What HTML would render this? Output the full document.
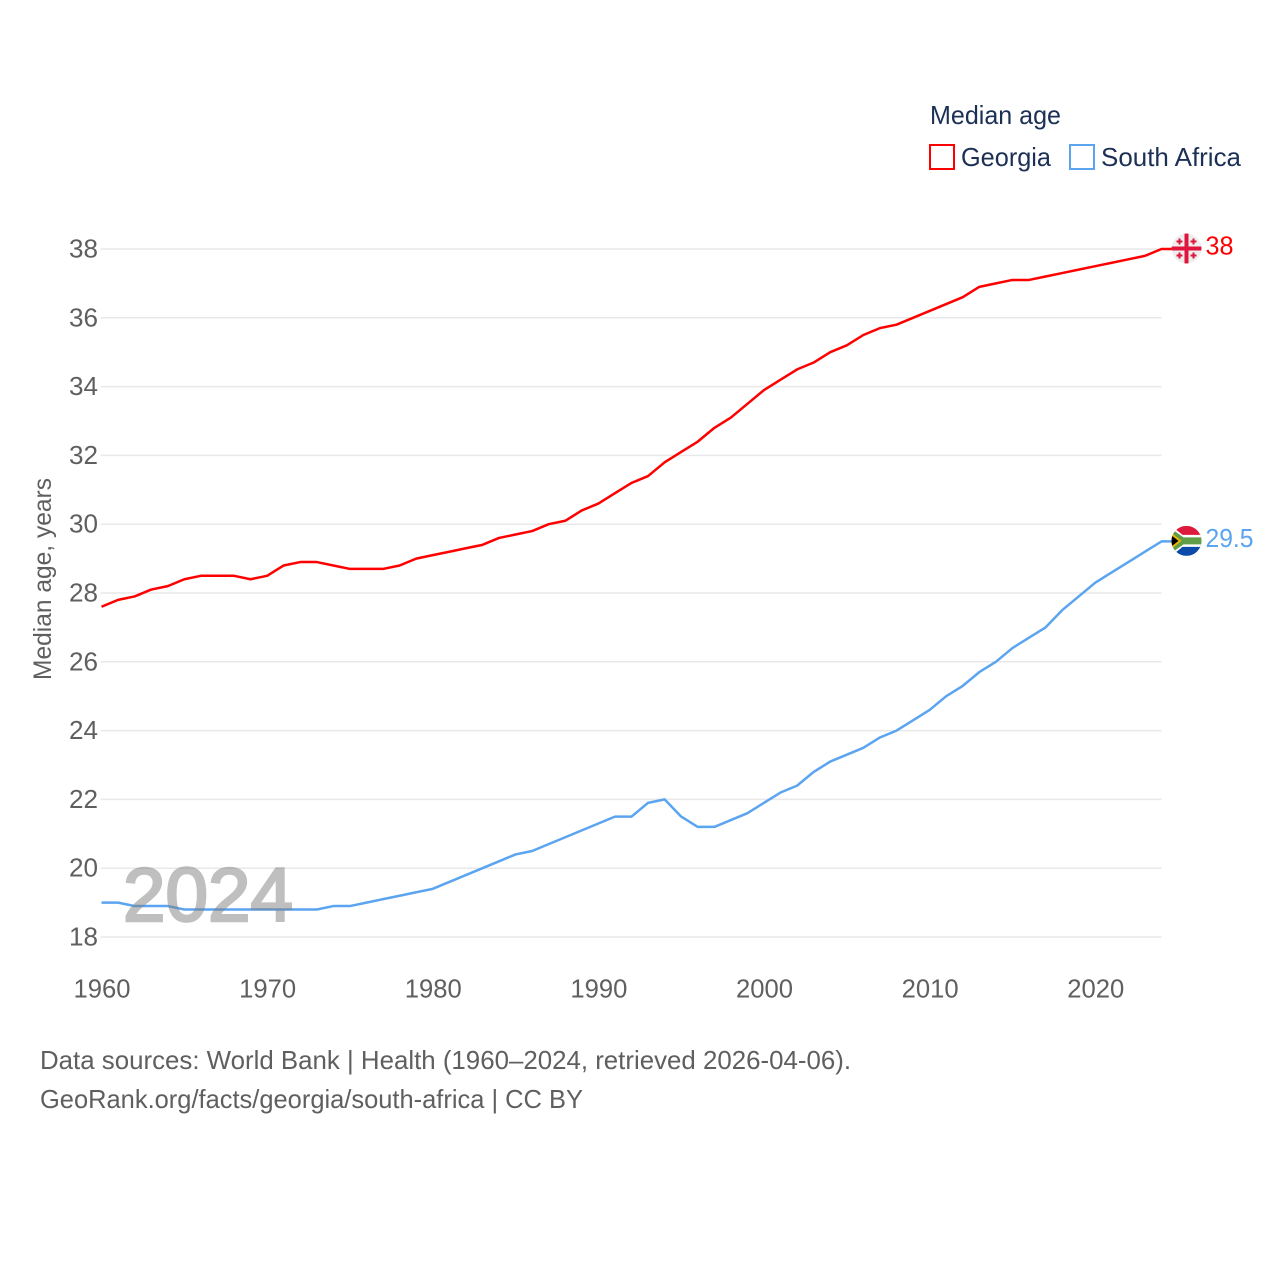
<!DOCTYPE html>
<html lang="en">
<head>
<meta charset="utf-8">
<title>Median age: Georgia and South Africa</title>
<style>
html,body{margin:0;padding:0;background:#fff;width:1280px;height:1280px;overflow:hidden}
svg{display:block;font-family:"Liberation Sans",sans-serif}
</style>
</head>
<body>
<svg id="chart" xmlns="http://www.w3.org/2000/svg" width="1280" height="1280" viewBox="0 0 1280 1280">
  <defs>
    <clipPath id="flag-clip"><circle cx="0" cy="0" r="15"/></clipPath>
  </defs>
  <rect x="0" y="0" width="1280" height="1280" fill="#fff"/>
  <g id="grid"></g>
  <g id="yticks"></g>
  <g id="xticks"></g>
  <text transform="translate(51,680) rotate(-90)" font-size="25" fill="#5f5f5f" textLength="202" lengthAdjust="spacingAndGlyphs">Median age, years</text>
  <g id="series"></g>
  <text x="123" y="921" font-size="76" fill="#808080" stroke="#808080" stroke-width="2.6" opacity="0.5" textLength="170" lengthAdjust="spacingAndGlyphs">2024</text>
  <g id="georgia-end"></g>
  <g id="sa-end"></g>
  <g>
    <text x="930" y="124" font-size="26" fill="#1b3054" textLength="131" lengthAdjust="spacingAndGlyphs">Median age</text>
    <rect x="930" y="145" width="24" height="24" fill="none" stroke="#ff0000" stroke-width="2"/>
    <text x="961" y="166" font-size="26" fill="#1b3054" textLength="90" lengthAdjust="spacingAndGlyphs">Georgia</text>
    <rect x="1070" y="145" width="24" height="24" fill="none" stroke="#5ba4f0" stroke-width="2"/>
    <text x="1101" y="166" font-size="26" fill="#1b3054" textLength="140" lengthAdjust="spacingAndGlyphs">South Africa</text>
  </g>
  <text x="40" y="1069" font-size="26" fill="#5f5f5f" textLength="811" lengthAdjust="spacingAndGlyphs">Data sources: World Bank | Health (1960–2024, retrieved 2026-04-06).</text>
  <text x="40" y="1108" font-size="26" fill="#5f5f5f" textLength="543" lengthAdjust="spacingAndGlyphs">GeoRank.org/facts/georgia/south-africa | CC BY</text>
</svg>
<script>
const years = [1960,1961,1962,1963,1964,1965,1966,1967,1968,1969,1970,1971,1972,1973,1974,1975,1976,1977,1978,1979,1980,1981,1982,1983,1984,1985,1986,1987,1988,1989,1990,1991,1992,1993,1994,1995,1996,1997,1998,1999,2000,2001,2002,2003,2004,2005,2006,2007,2008,2009,2010,2011,2012,2013,2014,2015,2016,2017,2018,2019,2020,2021,2022,2023,2024];
const georgiaValues = [27.6,27.8,27.9,28.1,28.2,28.4,28.5,28.5,28.5,28.4,28.5,28.8,28.9,28.9,28.8,28.7,28.7,28.7,28.8,29.0,29.1,29.2,29.3,29.4,29.6,29.7,29.8,30.0,30.1,30.4,30.6,30.9,31.2,31.4,31.8,32.1,32.4,32.8,33.1,33.5,33.9,34.2,34.5,34.7,35.0,35.2,35.5,35.7,35.8,36.0,36.2,36.4,36.6,36.9,37.0,37.1,37.1,37.2,37.3,37.4,37.5,37.6,37.7,37.8,38.0];
const southAfricaValues = [19.0,19.0,18.9,18.9,18.9,18.8,18.8,18.8,18.8,18.8,18.8,18.8,18.8,18.8,18.9,18.9,19.0,19.1,19.2,19.3,19.4,19.6,19.8,20.0,20.2,20.4,20.5,20.7,20.9,21.1,21.3,21.5,21.5,21.9,22.0,21.5,21.2,21.2,21.4,21.6,21.9,22.2,22.4,22.8,23.1,23.3,23.5,23.8,24.0,24.3,24.6,25.0,25.3,25.7,26.0,26.4,26.7,27.0,27.5,27.9,28.3,28.6,28.9,29.2,29.5];
const yTickValues = [18,20,22,24,26,28,30,32,34,36,38];
const xTickValues = [1960,1970,1980,1990,2000,2010,2020];
const georgiaEndLabel = "38";
const southAfricaEndLabel = "29.5";

const NS = "http://www.w3.org/2000/svg";
const xScale = function (year) { return 101.5 + (year - 1960) * (1161.5 - 101.5) / 64; };
const yScale = function (value) { return 937 - (value - 18) * (937 - 249) / 20; };
const make = function (tag, attrs, parent) {
  const el = document.createElementNS(NS, tag);
  Object.keys(attrs).forEach(function (k) { el.setAttribute(k, attrs[k]); });
  parent.appendChild(el);
  return el;
};
const gridGroup = document.getElementById("grid");
const yTickGroup = document.getElementById("yticks");
const xTickGroup = document.getElementById("xticks");
const seriesGroup = document.getElementById("series");

yTickValues.forEach(function (v) {
  const line = make("line", {x1: 100.5, x2: 1161.5, y1: yScale(v), y2: yScale(v), stroke: "#e9e9e9", "stroke-width": 1.5}, gridGroup);
  
  
  const label = make("text", {x: 98, y: yScale(v) + 8.5, "text-anchor": "end", "font-size": 26, fill: "#5f5f5f", textLength: 29, lengthAdjust: "spacingAndGlyphs"}, yTickGroup);
  
  
  label.textContent = String(v);
});

xTickValues.forEach(function (yr) {
  const label = make("text", {x: xScale(yr) + 0.5, y: 997.5, "text-anchor": "middle", "font-size": 26, fill: "#5f5f5f", textLength: 57, lengthAdjust: "spacingAndGlyphs"}, xTickGroup);
  
  
  label.textContent = String(yr);
});

const linePoints = function (values) {
  const pts = values.map(function (v, i) { return xScale(years[i]).toFixed(2) + "," + yScale(v).toFixed(2); });
  const last = values[values.length - 1];
  pts.push((xScale(years[years.length - 1]) + 10).toFixed(2) + "," + yScale(last).toFixed(2));
  return pts.join(" ");
};

const georgiaLine = make("polyline", {points: linePoints(georgiaValues), fill: "none", stroke: "#ff0000", "stroke-width": 2.5, "stroke-linejoin": "round"}, seriesGroup);



const southAfricaLine = make("polyline", {points: linePoints(southAfricaValues), fill: "none", stroke: "#5ba4f0", "stroke-width": 2.5, "stroke-linejoin": "round"}, seriesGroup);



const endX = xScale(years[years.length - 1]) + 25;

/* Georgia flag and end label */
const georgiaY = yScale(georgiaValues[georgiaValues.length - 1]);
const geoEnd = document.getElementById("georgia-end");
const geoFlag = make("g", {transform: "translate(" + endX + "," + (georgiaY - 0.5) + ")", "clip-path": "url(#flag-clip)"}, geoEnd);


make("circle", {cx: 0, cy: 0, r: 15, fill: "#eeeeee"}, geoFlag);
make("rect", {x: -15, y: -2, width: 30, height: 4, fill: "#e0143c"}, geoFlag);
make("rect", {x: -2, y: -15, width: 4, height: 30, fill: "#e0143c"}, geoFlag);
[[-7,-7],[7,-7],[-7,7],[7,7]].forEach(function (c) {
  make("rect", {x: c[0] - 3, y: c[1] - 1, width: 6, height: 2, fill: "#e0143c"}, geoFlag);
  make("rect", {x: c[0] - 1, y: c[1] - 3, width: 2, height: 6, fill: "#e0143c"}, geoFlag);
});
const geoLabel = make("text", {x: endX + 19, y: georgiaY + 5.5, "font-size": 26, fill: "#ff0000", textLength: 28, lengthAdjust: "spacingAndGlyphs"}, geoEnd);


geoLabel.textContent = georgiaEndLabel;

/* South Africa flag and end label */
const saY = yScale(southAfricaValues[southAfricaValues.length - 1]);
const saEnd = document.getElementById("sa-end");
const saFlag = make("g", {transform: "translate(" + endX + "," + (saY - 0.5) + ")", "clip-path": "url(#flag-clip)"}, saEnd);


make("rect", {x: -15, y: -15, width: 30, height: 15, fill: "#de1a3c"}, saFlag);
make("rect", {x: -15, y: 0, width: 30, height: 15, fill: "#0b4aa8"}, saFlag);
make("path", {d: "M-15,-15 L-4,-6 H15 V6 H-4 L-15,15 Z", fill: "#ffffff"}, saFlag);
make("path", {d: "M-15,-12 L-3,-3.5 H15 V3.5 H-3 L-15,12 Z", fill: "#5f9e46"}, saFlag);
make("path", {d: "M-15,-8 L-5,0 L-15,8 Z", fill: "#f2b705"}, saFlag);
make("path", {d: "M-15,-5.5 L-8,0 L-15,5.5 Z", fill: "#000000"}, saFlag);
const saLabel = make("text", {x: endX + 19, y: saY + 5.5, "font-size": 26, fill: "#5ba4f0", textLength: 48, lengthAdjust: "spacingAndGlyphs"}, saEnd);


saLabel.textContent = southAfricaEndLabel;
</script>
</body>
</html>
